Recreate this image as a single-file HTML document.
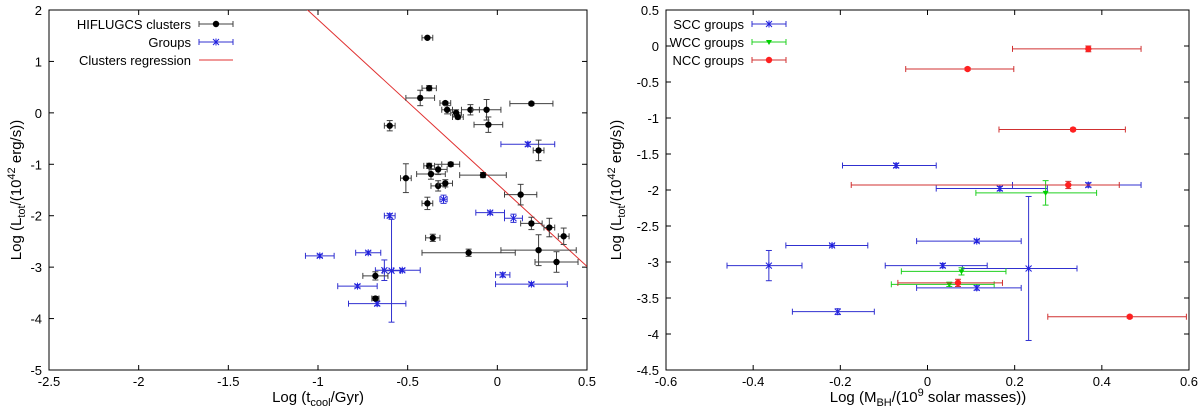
<!DOCTYPE html>
<html><head><meta charset="utf-8"><style>
html,body{margin:0;padding:0;background:#fff;width:1200px;height:412px;overflow:hidden}
svg text{font-family:"Liberation Sans",sans-serif;fill:#000}
</style></head><body>
<svg id="chart" width="1200" height="412" viewBox="0 0 1200 412" xmlns="http://www.w3.org/2000/svg"></svg>
<script>
// Left panel data: [x, y, xerr, yerr]
const clusterX=[-0.39,-0.38,-0.43,-0.29,-0.28,-0.23,-0.22,-0.15,-0.06,-0.05,0.19,-0.6,0.23,-0.38,-0.26,-0.33,-0.37,-0.51,-0.33,-0.29,-0.39,-0.08,0.13,0.19,0.29,0.37,-0.36,-0.16,0.23,0.33,-0.68,-0.68];
const clusterY=[1.46,0.48,0.29,0.19,0.06,0.0,-0.08,0.06,0.06,-0.23,0.18,-0.25,-0.73,-1.03,-1.0,-1.1,-1.19,-1.27,-1.42,-1.37,-1.76,-1.21,-1.59,-2.15,-2.23,-2.40,-2.43,-2.72,-2.67,-2.9,-3.17,-3.61];
const clusterXErr=[0.03,0.04,0.08,0.03,0.03,0.03,0.03,0.05,0.08,0.08,0.12,0.03,0.03,0.03,0.05,0.05,0.08,0.03,0.04,0.04,0.03,0.13,0.09,0.06,0.03,0.03,0.04,0.26,0.21,0.12,0.07,0.02];
const clusterYErr=[0.02,0.05,0.15,0.03,0.08,0.06,0.04,0.1,0.2,0.15,0.03,0.1,0.2,0.05,0.04,0.1,0.1,0.28,0.1,0.07,0.12,0.05,0.2,0.12,0.18,0.16,0.07,0.07,0.3,0.2,0.08,0.04];
const groupX=[-0.99,-0.72,-0.78,-0.63,-0.59,-0.53,-0.67,-0.6,-0.3,-0.04,0.09,0.17,0.03,0.19];
const groupY=[-2.78,-2.72,-3.37,-3.06,-3.07,-3.06,-3.71,-2.0,-1.68,-1.94,-2.05,-0.61,-3.15,-3.33];
const groupXErr=[0.08,0.07,0.11,0.05,0.05,0.1,0.16,0.03,0.02,0.08,0.05,0.15,0.04,0.2];
const groupYErr=[0.03,0.03,0.03,0.2,1.0,0.03,0.04,0.04,0.08,0.03,0.08,0.04,0.04,0.03];
const regIntercept=-1.386, regSlope=-3.2;
const leftXTicks=[-2.5,-2,-1.5,-1,-0.5,0,0.5];
const leftYTicks=[2,1,0,-1,-2,-3,-4,-5];
// Right panel data
const sccX=[-0.072,0.166,0.369,-0.219,0.113,-0.364,0.035,0.232,0.113,-0.206];
const sccY=[-1.66,-1.98,-1.93,-2.77,-2.71,-3.05,-3.05,-3.09,-3.36,-3.69];
const sccXLo=[-0.195,0.02,0.195,-0.325,-0.025,-0.46,-0.097,0.08,-0.025,-0.31];
const sccXHi=[0.02,0.275,0.49,-0.137,0.215,-0.288,0.137,0.343,0.215,-0.122];
const sccYErr=[0.03,0.03,0.03,0.02,0.02,0.21,0.03,1.0,0.03,0.04];
const wccX=[0.271,0.078,0.05];
const wccY=[-2.04,-3.13,-3.31];
const wccXLo=[0.111,-0.06,-0.083];
const wccXHi=[0.388,0.18,0.153];
const wccYErr=[0.17,0.05,0.03];
const nccX=[0.369,0.092,0.334,0.323,0.07,0.464];
const nccY=[-0.04,-0.32,-1.16,-1.93,-3.29,-3.76];
const nccXLo=[0.195,-0.05,0.164,-0.175,-0.068,0.276];
const nccXHi=[0.49,0.198,0.454,0.44,0.172,0.594];
const nccYErr=[0.04,0.02,0.02,0.05,0.05,0.02];
const rightXTicks=[-0.6,-0.4,-0.2,0,0.2,0.4,0.6];
const rightYTicks=[0.5,0,-0.5,-1,-1.5,-2,-2.5,-3,-3.5,-4,-4.5];

const svg=document.getElementById('chart');
const NS='http://www.w3.org/2000/svg';
function mk(tag,attrs,parent){const e=document.createElementNS(NS,tag);for(const k in attrs)e.setAttribute(k,attrs[k]);(parent||svg).appendChild(e);return e;}
function scale(d0,d1,r0,r1){return v=>r0+(v-d0)/(d1-d0)*(r1-r0);}

function frame(g,L,T,R,B,xs,ys,xt,yt,fmtX){
  const r=mk('rect',{x:L,y:T,width:R-L,height:B-T,fill:'none',stroke:'#000','stroke-width':1},g);
  
  
  xt.forEach(v=>{const x=xs(v);
    mk('line',{x1:x,y1:B,x2:x,y2:B-5,stroke:'#000'},g);mk('line',{x1:x,y1:T,x2:x,y2:T+5,stroke:'#000'},g);
    const t=mk('text',{x:x,y:B+16,'font-size':13,'text-anchor':'middle'},g);t.textContent=String(v);
    
    });
  yt.forEach(v=>{const y=ys(v);
    mk('line',{x1:L,y1:y,x2:L+5,y2:y,stroke:'#000'},g);mk('line',{x1:R,y1:y,x2:R-5,y2:y,stroke:'#000'},g);
    const t=mk('text',{x:L-7,y:y+5,'font-size':13,'text-anchor':'end'},g);t.textContent=String(v);
    
    });
}
function errPt(g,x,y,x0,x1,y0,y1,color,marker,name){
  const p=mk('g',{},g);
  
  
  mk('line',{x1:x0,y1:y,x2:x1,y2:y,stroke:color,'stroke-width':1},p);
  mk('line',{x1:x0,y1:y-3,x2:x0,y2:y+3,stroke:color},p);
  mk('line',{x1:x1,y1:y-3,x2:x1,y2:y+3,stroke:color},p);
  mk('line',{x1:x,y1:y0,x2:x,y2:y1,stroke:color},p);
  mk('line',{x1:x-3,y1:y0,x2:x+3,y2:y0,stroke:color},p);
  mk('line',{x1:x-3,y1:y1,x2:x+3,y2:y1,stroke:color},p);
  drawMarker(p,x,y,marker);
}
function drawMarker(p,x,y,marker){
  if(marker==='dot')mk('circle',{cx:x,cy:y,r:3.2,fill:'#000'},p);
  else if(marker==='star'){const c='#2020e0';
    mk('line',{x1:x-3,y1:y-3,x2:x+3,y2:y+3,stroke:c},p);mk('line',{x1:x-3,y1:y+3,x2:x+3,y2:y-3,stroke:c},p);
    mk('line',{x1:x,y1:y-3.5,x2:x,y2:y+3.5,stroke:c},p);}
  else if(marker==='tri')mk('polygon',{points:`${x-3},${y-2} ${x+3},${y-2} ${x},${y+3}`,fill:'#00d000'},p);
  else if(marker==='red')mk('circle',{cx:x,cy:y,r:3.2,fill:'#ff2020'},p);
}
function legend(g,xr,y,label,color,marker,name){
  const e=mk('g',{},g);
  
  
  const t=mk('text',{x:xr,y:y+5,'font-size':13,'text-anchor':'end'},e);t.textContent=label;
  mk('line',{x1:xr+8,y1:y,x2:xr+42,y2:y,stroke:color},e);
  if(marker){mk('line',{x1:xr+8,y1:y-3,x2:xr+8,y2:y+3,stroke:color},e);mk('line',{x1:xr+42,y1:y-3,x2:xr+42,y2:y+3,stroke:color},e);drawMarker(e,xr+25,y,marker);}
}

// Left panel
const gl=mk('g',{});


const lx=scale(-2.5,0.5,49,587), ly=scale(2,-5,10,370);
frame(gl,49,10,587,370,lx,ly,leftXTicks,leftYTicks);
const clip=mk('clipPath',{id:'lc'},gl);mk('rect',{x:49,y:10,width:538,height:360},clip);
const reg=mk('line',{x1:lx(-2.5),y1:ly(regIntercept+regSlope*-2.5),x2:lx(0.5),y2:ly(regIntercept+regSlope*0.5),stroke:'#e03030','clip-path':'url(#lc)'},gl);


groupX.forEach((v,i)=>errPt(gl,lx(v),ly(groupY[i]),lx(v-groupXErr[i]),lx(v+groupXErr[i]),ly(groupY[i]+groupYErr[i]),ly(groupY[i]-groupYErr[i]),'#3030d0','star','group-point'));
clusterX.forEach((v,i)=>errPt(gl,lx(v),ly(clusterY[i]),lx(v-clusterXErr[i]),lx(v+clusterXErr[i]),ly(clusterY[i]+clusterYErr[i]),ly(clusterY[i]-clusterYErr[i]),'#404040','dot','cluster-point'));
legend(gl,191,24,'HIFLUGCS clusters','#404040','dot','legend-clusters');
legend(gl,191,42,'Groups','#3030d0','star','legend-groups');
legend(gl,191,60,'Clusters regression','#e03030',null,'legend-regression');
const lxt=mk('text',{x:318,y:402,'font-size':15,'text-anchor':'middle'},gl);
lxt.innerHTML='Log (t<tspan font-size="11" dy="4">cool</tspan><tspan dy="-4">/Gyr)</tspan>';


const lyt=mk('text',{x:0,y:0,'font-size':15,'text-anchor':'middle',transform:'translate(21,190) rotate(-90)'},gl);
lyt.innerHTML='Log (L<tspan font-size="11" dy="4">tot</tspan><tspan dy="-4">/(10</tspan><tspan font-size="11" dy="-6">42</tspan><tspan dy="6"> erg/s))</tspan>';



// Right panel
const gr=mk('g',{});


const rx=scale(-0.6,0.6,666,1189), ry=scale(0.5,-4.5,10,370);
frame(gr,666,10,1189,370,rx,ry,rightXTicks,rightYTicks);
sccX.forEach((v,i)=>errPt(gr,rx(v),ry(sccY[i]),rx(sccXLo[i]),rx(sccXHi[i]),ry(sccY[i]+sccYErr[i]),ry(sccY[i]-sccYErr[i]),'#3030d0','star','scc-point'));
wccX.forEach((v,i)=>errPt(gr,rx(v),ry(wccY[i]),rx(wccXLo[i]),rx(wccXHi[i]),ry(wccY[i]+wccYErr[i]),ry(wccY[i]-wccYErr[i]),'#20d020','tri','wcc-point'));
nccX.forEach((v,i)=>errPt(gr,rx(v),ry(nccY[i]),rx(nccXLo[i]),rx(nccXHi[i]),ry(nccY[i]+nccYErr[i]),ry(nccY[i]-nccYErr[i]),'#d03030','red','ncc-point'));
legend(gr,744,24,'SCC groups','#3030d0','star','legend-scc');
legend(gr,744,42,'WCC groups','#20d020','tri','legend-wcc');
legend(gr,744,60,'NCC groups','#d03030','red','legend-ncc');
const rxt=mk('text',{x:928,y:402,'font-size':15,'text-anchor':'middle'},gr);
rxt.innerHTML='Log (M<tspan font-size="11" dy="4">BH</tspan><tspan dy="-4">/(10</tspan><tspan font-size="11" dy="-6">9</tspan><tspan dy="6"> solar masses))</tspan>';


const ryt=mk('text',{x:0,y:0,'font-size':15,'text-anchor':'middle',transform:'translate(621,190) rotate(-90)'},gr);
ryt.innerHTML='Log (L<tspan font-size="11" dy="4">tot</tspan><tspan dy="-4">/(10</tspan><tspan font-size="11" dy="-6">42</tspan><tspan dy="6"> erg/s))</tspan>';


</script>
</body></html>
